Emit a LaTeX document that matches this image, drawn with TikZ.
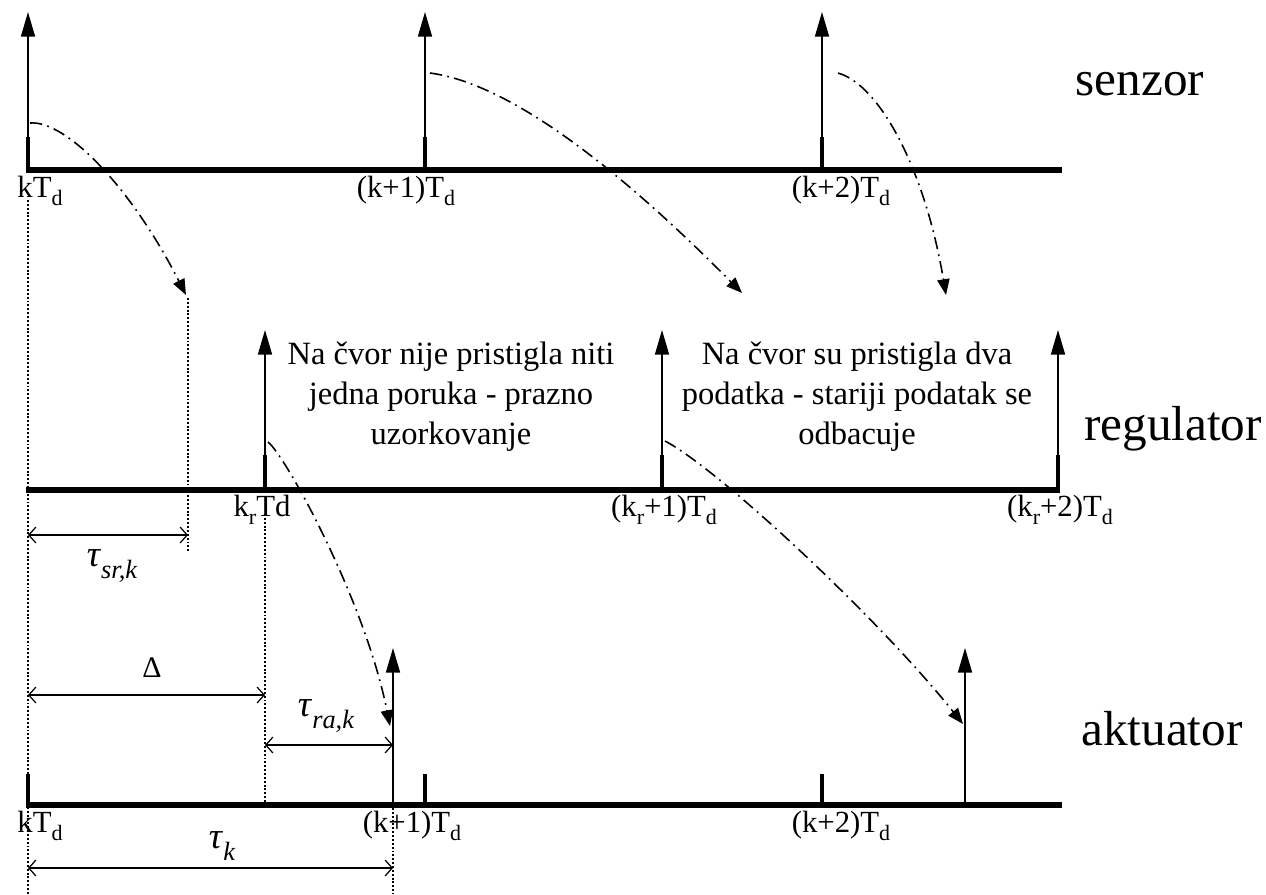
\documentclass[tikz,border=0pt]{standalone}
\usepackage{fontspec}
\setmainfont{Liberation Serif}
\usetikzlibrary{arrows.meta}
\newcommand{\dsub}[1]{\raisebox{-0.55ex}{\fontsize{12.5}{13}\selectfont #1}}
\newcommand{\tsub}[1]{\raisebox{-0.7ex}{\fontsize{15}{16}\selectfont\itshape #1}}

\begin{document}
\begin{tikzpicture}[x=0.02cm, y=-0.02cm,
  axis/.style={line width=3.9pt},
  tickmark/.style={line width=2.8pt},
  pulse/.style={-{Triangle[length=14pt, width=8pt]}, line width=0.8pt},
  msg/.style={-{Triangle[length=9pt, width=7pt]}, line width=0.9pt, dash pattern=on 7pt off 3pt on 1pt off 3pt},
  guide/.style={line width=0.9pt, dash pattern=on 1.1pt off 1.1pt},
  dim/.style={{Straight Barb[length=4pt, width=9pt]}-{Straight Barb[length=4pt, width=9pt]}, line width=0.7pt},
  timelbl/.style={font=\fontsize{17.5}{20}\selectfont, inner sep=0pt, anchor=north},
  note/.style={font=\fontsize{18.5}{22.7}\selectfont, align=center, inner sep=0pt},
  role/.style={font=\fontsize{28}{32}\selectfont, anchor=base, inner sep=0pt},
  delay/.style={font=\fontsize{21}{24}\selectfont, inner sep=0pt}
]
  \useasboundingbox (0,0) rectangle (1266,894);

  % senzor
  \coordinate (sL) at (26,170);
  \coordinate (sR) at (1062,170);
  \draw[axis] (sL) -- (sR);
  \foreach \i/\x in {0/28, 1/425, 2/822} {
    \coordinate (s\i) at (\x,170);
    \coordinate (sm\i) at (\x,137);
    \coordinate (st\i) at (\x,12);
    \draw[tickmark] (s\i) -- (sm\i);
    \draw[pulse] (s\i) -- (st\i);
  }
  \node[timelbl] (sl0) at (40,176) {kT\dsub{d}};
  \node[timelbl] (sl1) at (406,176) {(k+1)T\dsub{d}};
  \node[timelbl] (sl2) at (841,176) {(k+2)T\dsub{d}};
  \node[role] (senzor) at (1140,95) {senzor};

  % regulator
  \coordinate (rL) at (26,490);
  \coordinate (rR) at (1060,490);
  \draw[axis] (rL) -- (rR);
  \foreach \i/\x in {0/265, 1/662, 2/1058} {
    \coordinate (r\i) at (\x,490);
    \coordinate (rm\i) at (\x,455);
    \coordinate (rt\i) at (\x,330);
    \draw[tickmark] (r\i) -- (rm\i);
    \draw[pulse] (r\i) -- (rt\i);
  }
  \node[timelbl] (rl0) at (262,495) {k\dsub{r}Td};
  \node[timelbl] (rl1) at (664,495) {(k\dsub{r}+1)T\dsub{d}};
  \node[timelbl] (rl2) at (1060,495) {(k\dsub{r}+2)T\dsub{d}};
  \node[role] (regulator) at (1173,440) {regulator};

  \node[note] (empty) at (451,397) {Na čvor nije pristigla niti\\jedna poruka - prazno\\uzorkovanje};
  \node[note] (twice) at (857,397) {Na čvor su pristigla dva\\podatka - stariji podatak se\\odbacuje};

  % aktuator
  \coordinate (aL) at (26,805);
  \coordinate (aR) at (1062,805);
  \draw[axis] (aL) -- (aR);
  \foreach \i/\x in {0/28, 1/425, 2/822} {
    \coordinate (a\i) at (\x,805);
    \coordinate (am\i) at (\x,774);
    \draw[tickmark] (a\i) -- (am\i);
  }
  \coordinate (u0) at (393,805);
  \coordinate (ut0) at (393,648);
  \coordinate (u1) at (965,805);
  \coordinate (ut1) at (965,648);
  \draw[pulse] (u0) -- (ut0);
  \draw[pulse] (u1) -- (ut1);
  \node[timelbl] (al0) at (40,811) {kT\dsub{d}};
  \node[timelbl] (al1) at (412,811) {(k+1)T\dsub{d}};
  \node[timelbl] (al2) at (841,811) {(k+2)T\dsub{d}};
  \node[role] (aktuator) at (1162,745) {aktuator};

  % poruke
  \coordinate (m1s) at (30,123);
  \coordinate (m1e) at (186,295);
  \coordinate (m2s) at (430,73);
  \coordinate (m2e) at (742,293);
  \coordinate (m3s) at (838,73);
  \coordinate (m3e) at (946,295);
  \coordinate (m4s) at (268,442);
  \coordinate (m4e) at (390,726);
  \coordinate (m5s) at (665,441);
  \coordinate (m5e) at (963,724);
  \draw[msg] (m1s) .. controls (65,120) and (130,185) .. (m1e);
  \draw[msg] (m2s) .. controls (520,85) and (640,190) .. (m2e);
  \draw[msg] (m3s) .. controls (880,85) and (925,170) .. (m3e);
  \draw[msg] (m4s) .. controls (285,455) and (365,600) .. (m4e);
  \draw[msg] (m5s) .. controls (720,470) and (880,620) .. (m5e);

  % pomocne linije
  \coordinate (g0t) at (28,200);
  \coordinate (g0b) at (28,894);
  \coordinate (g1t) at (188,298);
  \coordinate (g1b) at (188,552);
  \coordinate (g2t) at (265,514);
  \coordinate (g2b) at (265,803);
  \coordinate (g3t) at (393,808);
  \coordinate (g3b) at (393,894);
  \draw[guide] (g0t) -- (g0b);
  \draw[guide] (g1t) -- (g1b);
  \draw[guide] (g2t) -- (g2b);
  \draw[guide] (g3t) -- (g3b);

  % kasnjenja
  \coordinate (d1a) at (28,535);
  \coordinate (d1b) at (188,535);
  \coordinate (d2a) at (28,695);
  \coordinate (d2b) at (265,695);
  \coordinate (d3a) at (265,745);
  \coordinate (d3b) at (393,745);
  \coordinate (d4a) at (28,868);
  \coordinate (d4b) at (393,868);
  \draw[dim] (d1a) -- (d1b);
  \draw[dim] (d2a) -- (d2b);
  \draw[dim] (d3a) -- (d3b);
  \draw[dim] (d4a) -- (d4b);
  \node[delay] (tsr) at (112,566) {\textit{τ}\tsub{sr,k}};
  \node[delay, font=\fontsize{17}{20}\selectfont] (dlt) at (152,668) {Δ};
  \node[delay] (tra) at (326,716) {\textit{τ}\tsub{ra,k}};
  \node[delay] (tk) at (222,846) {\textit{τ}\tsub{k}};
\end{tikzpicture}
\end{document}
